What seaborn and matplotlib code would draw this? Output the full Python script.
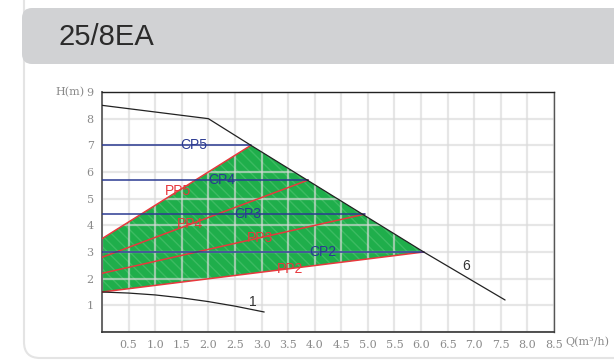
import numpy as np
import matplotlib.pyplot as plt
from matplotlib.patches import FancyBboxPatch
import seaborn as sns

# max curve (6) and min curve (1)
max_q = [0.0, 2.0, 2.8, 6.05, 7.58]
max_h = [8.5, 8.0, 7.0, 3.0, 1.2]
min_q = [0.0, 0.5, 1.0, 1.5, 2.0, 2.5, 3.05]
min_h = [1.5, 1.46, 1.39, 1.28, 1.14, 0.97, 0.75]

# proportional pressure lines: start head at Q=0, end point on the envelope
pp_names = ["PP2", "PP3", "PP4", "PP5"]
pp_h0 = [1.5, 2.2, 2.8, 3.5]
pp_q1 = [6.05, 4.94, 3.88, 2.8]
pp_h1 = [3.0, 4.42, 5.7, 7.0]
pp_label_q = [3.53, 2.97, 1.65, 1.43]

# constant pressure lines
cp_names = ["CP2", "CP3", "CP4", "CP5"]
cp_h = [3.0, 4.42, 5.7, 7.0]
cp_q1 = [6.05, 4.94, 3.88, 2.8]
cp_label_q = [4.16, 2.75, 2.25, 1.72]

# operating area (green)
area_q = [0.0, 2.8, 6.05, 0.0]
area_h = [3.5, 7.0, 3.0, 1.5]

x_ticks = np.arange(0, 8.51, 0.5)
y_ticks = np.arange(0, 10, 1)

RED = "#e8383d"
BLUE = "#2b3a92"
GREEN = "#1fae4b"

sns.set_style("white")
plt.rcParams["font.family"] = ["Liberation Sans", "DejaVu Sans"]

fig = plt.figure(figsize=(6.14, 3.62), dpi=100)

# card background
bg = fig.add_axes([0, 0, 1, 1])
bg.set_xlim(0, 614)
bg.set_ylim(362, 0)
bg.axis("off")
bg.add_patch(FancyBboxPatch((24, -20), 640, 378, boxstyle="round,pad=0,rounding_size=16",
                            facecolor="white", edgecolor="#e4e4e4", linewidth=1.5))
bg.add_patch(FancyBboxPatch((22, 8), 640, 56, boxstyle="round,pad=0,rounding_size=10",
                            facecolor="#d1d2d4", edgecolor="none"))
bg.text(58, 37, "25/8EA", fontsize=21, color="#2b2b2b", va="center", ha="left")

ax = fig.add_axes([102 / 614, 30 / 362, 452 / 614, 240 / 362])
ax.set_xlim(0, 8.5)
ax.set_ylim(0, 9)

ax.fill(area_q, area_h, facecolor=GREEN, edgecolor="none", zorder=1)
ax.fill(area_q, area_h, facecolor="none", edgecolor="#3cbb62", hatch="\\\\\\",
        linewidth=0, zorder=1)

for name, h0, q1, h1, lq in zip(pp_names, pp_h0, pp_q1, pp_h1, pp_label_q):
    sns.lineplot(x=[0, q1], y=[h0, h1], color=RED, linewidth=1.1, ax=ax, zorder=3)
    lh = h0 + (h1 - h0) * lq / q1
    ax.text(lq, lh, name, color=RED, fontsize=10, ha="center", va="center", zorder=4)

for name, h, q1, lq in zip(cp_names, cp_h, cp_q1, cp_label_q):
    sns.lineplot(x=[0, q1], y=[h, h], color=BLUE, linewidth=1.1, ax=ax, zorder=3)
    ax.text(lq, h, name, color=BLUE, fontsize=10, ha="center", va="center", zorder=4)

sns.lineplot(x=max_q, y=max_h, color="#222222", linewidth=0.9, sort=False, ax=ax, zorder=3)
sns.lineplot(x=min_q, y=min_h, color="#222222", linewidth=0.9, sort=False, ax=ax, zorder=3)
ax.text(6.84, 2.47, "6", fontsize=10, color="#333333", ha="center", va="center")
ax.text(2.84, 1.12, "1", fontsize=10, color="#333333", ha="center", va="center")

# grid and axes styling
ax.set_axisbelow("line")
ax.grid(True, color="#dadada", linewidth=1.6, alpha=0.65)
ax.set_xticks(x_ticks)
ax.set_xticklabels([""] + [f"{v:.1f}" for v in x_ticks[1:]])
ax.set_yticks(y_ticks)
ax.set_yticklabels([""] + [str(v) for v in y_ticks[1:]])
ax.tick_params(axis="x", direction="inout", length=6, width=1, color="#555555",
               labelsize=8, labelcolor="#8a8a8a", pad=3)
ax.tick_params(axis="y", direction="out", length=4, width=1, color="#555555",
               labelsize=8, labelcolor="#8a8a8a", pad=2)
for lbl in ax.get_xticklabels() + ax.get_yticklabels():
    lbl.set_family("DejaVu Serif")
ax.spines["left"].set_color("#666666")
ax.spines["left"].set_linewidth(1.4)
ax.spines["bottom"].set_color("#333333")
ax.spines["bottom"].set_linewidth(1.2)
ax.spines["top"].set_color("#222222")
ax.spines["top"].set_linewidth(1.0)
ax.spines["right"].set_color("#555555")
ax.spines["right"].set_linewidth(1.0)

ax.text(-0.33, 9, "H(m)", fontsize=8, color="#8a8a8a", ha="right", va="center",
        family="DejaVu Serif", clip_on=False)
ax.text(8.72, -0.36, "Q(m³/h)", fontsize=8, color="#8a8a8a", ha="left", va="center",
        family="DejaVu Serif", clip_on=False)

plt.savefig("out.png", dpi=100)
plt.close()
